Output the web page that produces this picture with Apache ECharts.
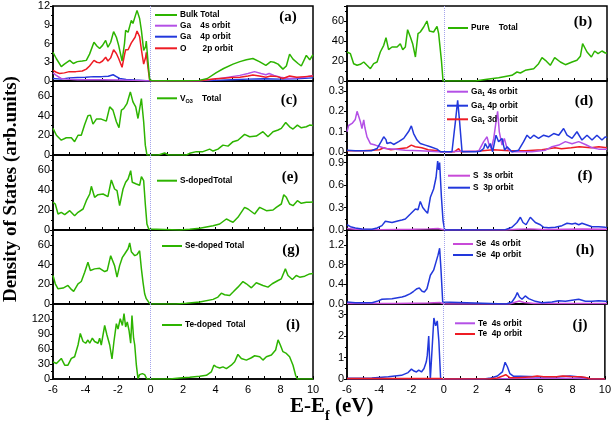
<!DOCTYPE html>
<html><head><meta charset="utf-8">
<script src="https://cdn.jsdelivr.net/npm/echarts@6/dist/echarts.min.js"></script>
<style>html,body{margin:0;padding:0;background:#fff}#c{width:614px;height:424px}</style>
</head><body><div id="c"></div>
<script>
// Energy axis (E - Ef, eV) tick labels
const xTickLabels = [-6,-4,-2,0,2,4,6,8,10];

// (a) bulk
const a_total = [[-6,4.6],[-5.8,3.6],[-5.49,2.3],[-5.3,2.7],[-4.97,3.3],[-4.75,2.8],[-4.5,3.1],[-4.2,3.2],[-3.95,3.3],[-3.75,4.3],[-3.48,6.2],[-3.3,5.6],[-3.13,5.2],[-2.95,5.7],[-2.76,6.5],[-2.62,5.4],[-2.45,6.2],[-2.27,7.9],[-2.1,7.0],[-1.96,5.7],[-1.75,3.2],[-1.6,6.0],[-1.53,8.1],[-1.38,7.8],[-1.18,9.7],[-1.08,9.2],[-0.95,10.3],[-0.83,11.3],[-0.67,10.0],[-0.56,8.1],[-0.42,4.9],[-0.3,5.5],[-0.26,6.4],[-0.15,3.0],[-0.05,0.2],[0.1,0.05],[1,0.05],[2,0.05],[3,0.1],[3.5,0.4],[4.05,1.35],[4.5,2.0],[5.08,2.7],[5.5,3.1],[5.9,3.4],[6.3,3.6],[6.7,3.1],[7.1,2.5],[7.4,3.1],[7.6,3.0],[7.85,2.7],[8.15,1.9],[8.36,2.4],[8.56,4.3],[8.77,3.5],[9.08,2.8],[9.28,2.4],[9.59,4.1],[9.8,3.4],[10,4.2]];
const a_ga4s = [[-6,1.3],[-5.8,0.9],[-5.5,0.4],[-5.2,0.3],[-4.5,0.2],[-3,0.2],[-2,0.15],[-1,0.1],[-0.3,0.05],[0,0.02],[1,0.02],[3,0.05],[3.5,0.15],[4.0,0.3],[4.5,0.5],[5.0,0.7],[5.5,0.9],[6.0,1.2],[6.4,1.5],[6.8,1.2],[7.1,1.0],[7.3,1.2],[7.6,0.9],[8.0,0.6],[8.5,0.4],[9.0,0.5],[9.5,0.6],[10,0.9]];
const a_ga4p = [[-6,0.4],[-5.5,0.3],[-5.0,0.5],[-4.5,0.55],[-4.0,0.6],[-3.5,0.7],[-3.0,0.7],[-2.6,0.75],[-2.3,1.0],[-2.1,0.7],[-1.9,0.4],[-1.5,0.25],[-1.0,0.15],[-0.5,0.1],[0,0.02],[3,0.05],[4,0.1],[5,0.2],[6,0.3],[7,0.35],[8,0.3],[9,0.35],[10,0.5]];
const a_o2p = [[-6,1.7],[-5.8,1.4],[-5.6,1.2],[-5.3,1.3],[-5.0,1.5],[-4.6,1.5],[-4.2,1.6],[-3.95,1.9],[-3.75,2.4],[-3.48,3.3],[-3.3,3.0],[-3.13,2.9],[-2.95,3.2],[-2.76,3.8],[-2.62,3.2],[-2.45,3.7],[-2.27,5.0],[-2.1,4.4],[-1.96,3.6],[-1.75,2.2],[-1.6,4.2],[-1.53,5.0],[-1.38,5.0],[-1.18,6.1],[-1.08,6.0],[-0.95,7.0],[-0.83,8.0],[-0.67,7.1],[-0.56,5.0],[-0.42,2.7],[-0.3,3.8],[-0.26,4.6],[-0.15,2.0],[-0.05,0.1],[0.1,0.02],[3,0.05],[3.5,0.2],[4.0,0.35],[4.5,0.45],[5.0,0.55],[5.5,0.6],[6.0,0.8],[6.3,0.95],[6.7,0.8],[7.1,0.6],[7.4,0.8],[7.8,0.7],[8.15,0.4],[8.56,0.8],[9.0,0.6],[9.5,0.7],[10,0.8]];

// (b) pure
const b_total = [[-6,29],[-5.79,27.3],[-5.59,17.3],[-5.38,15.7],[-5.18,16.7],[-4.97,19],[-4.77,15.7],[-4.56,12.3],[-4.36,17.3],[-4.15,19],[-3.95,29],[-3.74,35.7],[-3.6,43.3],[-3.44,31.3],[-3.23,34],[-2.92,34],[-2.72,37.3],[-2.57,31.3],[-2.41,34],[-2.27,51.3],[-2.1,44],[-1.96,37.3],[-1.79,24],[-1.63,47.3],[-1.49,49],[-1.28,54],[-1.08,60],[-0.93,50],[-0.67,49],[-0.46,54.7],[-0.36,47.3],[-0.19,20.7],[-0.09,0],[1.0,0],[1.9,0],[2.51,1.5],[3.33,3.3],[4.15,5.7],[4.46,9],[4.67,8],[4.97,10.7],[5.49,12.3],[5.79,17.3],[6.0,23.3],[6.21,20.7],[6.51,15.7],[6.78,23.3],[7.13,19],[7.44,16.3],[7.85,19],[8.15,20.7],[8.36,24.7],[8.5,37.3],[8.77,29],[9.04,24],[9.24,30],[9.45,27.3],[9.69,30],[9.9,28],[10,28]];

// (c) O vacancy
const c_total = [[-6,27],[-5.79,20],[-5.49,15],[-5.18,17.5],[-4.87,17.5],[-4.67,13.5],[-4.46,20],[-4.26,20],[-4.05,31],[-3.85,39.7],[-3.7,40.4],[-3.54,31.3],[-3.33,36.4],[-3.03,36.4],[-2.72,34.3],[-2.51,48.8],[-2.31,45.5],[-2.1,33.7],[-1.94,27.6],[-1.79,45.5],[-1.65,47],[-1.45,52],[-1.24,64],[-1.08,53.9],[-0.91,48.8],[-0.77,37],[-0.67,38.7],[-0.56,57.2],[-0.5,57],[-0.42,33.7],[-0.32,10],[-0.22,0],[0.5,0],[0.87,2],[1.1,0],[2.21,0],[2.41,1.7],[2.82,3.4],[3.23,3.4],[3.64,6],[3.85,4],[4.15,6],[4.46,10],[4.77,9],[5.08,13.5],[5.38,15],[5.79,20.9],[6.10,18.5],[6.51,19.2],[6.92,23.6],[7.23,18.5],[7.54,23.6],[7.85,25.3],[8.05,27],[8.32,33],[8.56,28.6],[8.77,26.3],[9.04,30.3],[9.28,27.6],[9.59,28.6],[9.79,30.3],[10,30]];

// (d) Ga1 orbitals
const d_ga4s = [[-6,0.099],[-5.9,0.13],[-5.69,0.14],[-5.49,0.16],[-5.38,0.2],[-5.28,0.205],[-5.18,0.15],[-5.08,0.115],[-4.97,0.158],[-4.9,0.12],[-4.77,0.074],[-4.56,0.04],[-4.26,0.033],[-3.95,0.025],[-3.64,0.016],[-3,0.012],[-2.41,0.008],[-1.5,0.005],[-0.36,0],[0.3,0],[1,0.003],[2.1,0.003],[2.41,0.05],[2.62,0.074],[2.72,0.04],[2.88,0.016],[3.03,0.066],[3.17,0.148],[3.27,0.2],[3.37,0.1],[3.54,0.033],[3.68,0.066],[3.85,0.016],[4.15,0],[5.38,0],[6.21,0.008],[6.62,0.025],[7.03,0.033],[7.44,0.05],[7.85,0.04],[8.26,0.05],[8.67,0.036],[9.08,0.02],[9.49,0.013],[9.9,0.012],[10,0.012]];
const d_ga4p = [[-6,0.008],[-5.5,0.005],[-4.5,0.005],[-4.15,0.016],[-3.9,0.05],[-3.74,0.074],[-3.6,0.06],[-3.54,0.041],[-3.33,0.046],[-3.13,0.036],[-2.82,0.05],[-2.51,0.066],[-2.21,0.1],[-2.04,0.128],[-1.9,0.09],[-1.69,0.058],[-1.49,0.041],[-1.18,0.033],[-0.87,0.025],[-0.46,0.013],[-0.26,0],[0.46,0],[0.6,0.1],[0.67,0.148],[0.81,0.255],[0.93,0.148],[1.08,0],[1.9,0],[2.21,0.003],[2.41,0.016],[2.51,0.041],[2.66,0.016],[2.82,0.041],[2.96,0],[3.17,0.082],[3.33,0.05],[3.54,0.066],[3.70,0.008],[3.85,0.025],[4.15,0],[4.56,0.008],[4.87,0.05],[5.08,0.082],[5.28,0.066],[5.49,0.082],[5.79,0.066],[6.1,0.082],[6.41,0.074],[6.72,0.09],[7.03,0.082],[7.33,0.115],[7.54,0.082],[7.85,0.066],[8.15,0.099],[8.46,0.058],[8.77,0.082],[9.08,0.058],[9.38,0.082],[9.69,0.058],[9.9,0.074],[10,0.07]];
const d_ga3d = [[-6,0.005],[-5,0.005],[-4,0.01],[-3.74,0.02],[-3.3,0.01],[-2.8,0.015],[-2.3,0.02],[-2.04,0.033],[-1.8,0.025],[-1.4,0.02],[-1.0,0.01],[-0.4,0.005],[-0.2,0],[0.6,0],[0.87,0.015],[1.0,0],[2,0.003],[3,0.01],[4,0.005],[5,0.005],[6,0.01],[6.8,0.02],[7.2,0.015],[7.8,0.02],[8.3,0.025],[9,0.02],[9.5,0.025],[10,0.02]];

// (e) S-doped
const e_total = [[-6,27.7],[-5.86,26],[-5.69,16],[-5.49,17.7],[-5.28,15.3],[-4.97,19.3],[-4.67,14.3],[-4.46,17.7],[-4.15,21],[-3.95,29.3],[-3.74,36],[-3.64,43.7],[-3.44,32.7],[-3.23,35.3],[-2.92,36],[-2.62,33.3],[-2.41,50],[-2.21,41],[-2.06,39.3],[-1.90,24.3],[-1.69,41],[-1.53,47.7],[-1.38,51],[-1.22,59.3],[-1.12,47.7],[-0.87,46],[-0.67,44.7],[-0.56,53.3],[-0.42,49.3],[-0.32,26],[-0.22,6],[-0.11,1],[0,0],[1.79,0],[2.41,0.7],[3.03,1.7],[3.85,4.3],[4.26,6],[4.67,11],[4.87,9.3],[5.08,7.7],[5.38,12.7],[5.79,22.7],[6.0,21],[6.41,16],[6.72,22.7],[7.13,19.3],[7.54,20],[7.74,22.7],[8.05,26],[8.2,35.3],[8.36,32.7],[8.56,26],[8.77,24.3],[9.04,29.3],[9.28,26.7],[9.59,27.7],[9.79,27.7],[10,28]];

// (f) S orbitals
const f_s3s = [[-6,0.02],[-5.5,0.01],[-4,0.005],[-2,0.01],[-1,0.015],[-0.4,0.02],[0,0],[3.8,0],[4.5,0.01],[5.3,0.015],[6,0.008],[7.5,0.01],[8.5,0.012],[10,0.01]];
const f_s3p = [[-6,0.07],[-5.79,0.044],[-5.49,0.027],[-5.08,0.013],[-4.46,0.01],[-4.15,0.027],[-3.85,0.058],[-3.64,0.116],[-3.23,0.1],[-2.82,0.124],[-2.62,0.133],[-2.41,0.147],[-2.10,0.213],[-1.79,0.28],[-1.63,0.27],[-1.49,0.38],[-1.34,0.3],[-1.18,0.258],[-1.04,0.222],[-0.87,0.436],[-0.67,0.547],[-0.52,0.7],[-0.42,0.92],[-0.36,0.8],[-0.30,0.9],[-0.19,0.44],[-0.09,0.124],[0.01,0],[3.74,0.005],[4.15,0.036],[4.46,0.1],[4.67,0.17],[4.83,0.1],[5.02,0.07],[5.28,0.17],[5.59,0.1],[5.9,0.07],[6.1,0.036],[6.41,0.03],[6.82,0.036],[7.23,0.058],[7.54,0.09],[7.85,0.08],[8.05,0.09],[8.26,0.07],[8.46,0.09],[8.77,0.067],[9.08,0.044],[9.49,0.044],[9.9,0.036],[10,0.035]];

// (g) Se-doped
const g_total = [[-6,28.9],[-5.86,20.5],[-5.69,15.4],[-5.38,16.1],[-5.08,18.8],[-4.87,14.8],[-4.73,12.8],[-4.46,20.5],[-4.26,22.8],[-4.05,32.2],[-3.85,42.3],[-3.70,33.9],[-3.44,35.6],[-3.13,36.2],[-2.82,32.9],[-2.66,34],[-2.45,49],[-2.21,38.9],[-2.06,27.2],[-1.9,38.9],[-1.73,47.3],[-1.59,50.7],[-1.38,56],[-1.28,62],[-1.18,53],[-0.97,49],[-0.83,50],[-0.67,54],[-0.56,35.6],[-0.46,22],[-0.36,10.4],[-0.26,5.4],[-0.05,0.3],[0.1,0],[1.59,0],[2.21,0.7],[3.03,2],[3.85,4.7],[4.15,7],[4.36,11],[4.56,9.4],[4.87,8.7],[5.08,12.1],[5.38,17.1],[5.69,22.8],[5.9,20.5],[6.21,16.4],[6.51,21.5],[6.92,18.8],[7.23,17.1],[7.49,20.5],[7.85,23.8],[8.05,25.5],[8.30,35.6],[8.46,28.9],[8.73,24.8],[8.97,28.9],[9.18,27.2],[9.49,28.2],[9.79,30.5],[10,31]];

// (h) Se orbitals
const h_se4s = [[-6,0.01],[-3,0.01],[-1,0.02],[-0.3,0.03],[0,0],[4,0],[4.4,0.04],[4.6,0.06],[4.9,0.03],[5.5,0.01],[7,0.01],[10,0.01]];
const h_se4p = [[-6,0.04],[-5.49,0.027],[-4.46,0.027],[-4.15,0.054],[-3.85,0.095],[-3.23,0.108],[-2.62,0.142],[-2.41,0.163],[-2.1,0.21],[-1.9,0.258],[-1.69,0.31],[-1.55,0.325],[-1.38,0.258],[-1.24,0.244],[-1.08,0.31],[-0.87,0.583],[-0.67,0.685],[-0.52,0.854],[-0.40,0.99],[-0.30,1.13],[-0.22,0.72],[-0.11,0.04],[-0.03,0],[3.8,0],[4.15,0.04],[4.36,0.142],[4.48,0.23],[4.61,0.142],[4.77,0.095],[4.97,0.163],[5.18,0.11],[5.59,0.054],[6.0,0.027],[6.62,0.04],[7.03,0.068],[7.44,0.054],[7.85,0.075],[8.26,0.095],[8.67,0.054],[9.08,0.054],[9.49,0.068],[9.9,0.054],[10,0.05]];

// (i) Te-doped
const i_total = [[-6,34.4],[-5.79,31],[-5.49,41.1],[-5.28,27.6],[-5.08,27.6],[-4.87,41.1],[-4.67,44.5],[-4.46,68],[-4.32,91],[-4.15,75],[-3.99,71.5],[-3.85,78],[-3.74,71.5],[-3.58,81.6],[-3.44,75],[-3.23,71.5],[-3.13,81.6],[-3.03,68],[-2.82,107],[-2.68,88],[-2.51,68],[-2.37,40],[-2.25,75],[-2.10,110.8],[-2.0,100],[-1.86,120.8],[-1.73,107],[-1.63,130.8],[-1.53,104],[-1.43,114],[-1.32,97],[-1.22,71.5],[-1.14,127],[-1.04,81.6],[-0.97,68],[-0.87,27.6],[-0.77,0.7],[-0.67,8.8],[-0.5,10.8],[-0.36,8.8],[-0.22,0],[1.18,0],[1.79,2],[2.41,3.4],[3.03,5.4],[3.44,7.4],[3.74,14.2],[3.9,27.6],[4.05,24.3],[4.26,22],[4.46,24.3],[4.67,20.9],[4.97,27.6],[5.18,34.4],[5.38,49.2],[5.59,41.1],[5.9,37.8],[6.21,42.5],[6.41,46.5],[6.72,44.5],[6.92,37.8],[7.13,44.5],[7.44,47.9],[7.7,58],[7.85,78.2],[7.99,68.1],[8.15,54.6],[8.36,51.2],[8.56,44.5],[8.77,27.6],[8.93,7.4],[9.04,0],[10,0]];

// (j) Te orbitals
const j_te5p = [[-6,0.03],[-4.46,0.05],[-3.44,0.1],[-2.62,0.17],[-2.21,0.3],[-2.0,0.46],[-1.84,0.37],[-1.69,0.33],[-1.55,0.41],[-1.38,0.33],[-1.22,0.49],[-1.08,0.8],[-1.02,1.1],[-0.93,2.0],[-0.83,0],[-0.73,0.05],[-0.61,2.85],[-0.5,2.48],[-0.4,2.71],[-0.3,1.76],[-0.19,0],[2.5,0],[2.92,0.05],[3.33,0.14],[3.64,0.33],[3.81,0.78],[3.95,0.57],[4.11,0.25],[4.19,0.33],[4.32,0.13],[4.77,0.13],[5.79,0.1],[7.03,0.1],[7.85,0.14],[8.87,0.06],[9.08,0],[10,0]];
const j_te4s = [[-6,0.015],[-3,0.01],[0,0.005],[4,0.02],[6,0.03],[8,0.03],[9,0.01],[10,0.01]];
const j_te4p = [[-6,0.02],[-2,0.02],[-0.2,0.02],[0,0],[2.9,0.01],[3.33,0.05],[3.7,0.15],[3.85,0.2],[4.1,0.06],[4.6,0.06],[5.5,0.1],[5.8,0.14],[6.2,0.1],[7.0,0.1],[7.4,0.14],[7.85,0.12],[8.5,0.1],[8.87,0.06],[9.08,0],[10,0]];

const GREEN='#2db400', VIOLET='#b450e6', MAGENTA='#c84ad8', BLUE='#2238dc', RED='#ee1c24';

const colLeft=[53,347], colW=260;
const rowTop=[6,81,155,230,304], rowH=[75,74,75,74,75];

const panels=[
 {c:0,r:0,min:0,max:12,interval:3,dec:0,showMax:true,lines:[[a_ga4p,BLUE],[a_ga4s,VIOLET],[a_o2p,RED],[a_total,GREEN]]},
 {c:1,r:0,min:0,max:75,interval:20,dec:0,lines:[[b_total,GREEN]]},
 {c:0,r:1,min:0,max:75,interval:20,dec:0,lines:[[c_total,GREEN]]},
 {c:1,r:1,min:-0.016,max:0.35,splitNumber:4,dec:1,lines:[[d_ga3d,RED],[d_ga4s,VIOLET],[d_ga4p,BLUE]]},
 {c:0,r:2,min:0,max:75,interval:20,dec:0,lines:[[e_total,GREEN]]},
 {c:1,r:2,min:0,max:1.0,interval:0.3,dec:1,lines:[[f_s3s,MAGENTA],[f_s3p,BLUE]]},
 {c:0,r:3,min:0,max:75,interval:20,dec:0,lines:[[g_total,GREEN]]},
 {c:1,r:3,min:0,max:1.5,interval:0.4,dec:1,lines:[[h_se4s,MAGENTA],[h_se4p,BLUE]]},
 {c:0,r:4,min:0,max:150,interval:30,dec:0,lines:[[i_total,GREEN]]},
 {c:1,r:4,min:0,max:3.5,interval:1,dec:0,lines:[[j_te4s,VIOLET],[j_te5p,BLUE],[j_te4p,RED]]}
];

const panelLabels=[['(a)',288,17],['(b)',583,22],['(c)',289,100],['(d)',584,101],['(e)',290,177],['(f)',585,176],['(g)',291,250],['(h)',585,250],['(i)',293,325],['(j)',580,325]];

const legendItems=[
 [155,177,15,GREEN,'Bulk Total'],[155,177,25.7,VIOLET,'Ga    4s orbit'],[155,177,36.7,BLUE,'Ga    4p orbit'],[155,177,48.3,RED,'O       2p orbit'],
 [448,468,28,GREEN,'Pure    Total'],
 [157,177,98.3,GREEN,'V{sub|O3}    Total'],
 [447,468,91.7,VIOLET,'Ga{sub|1} 4s orbit'],[447,468,105.7,BLUE,'Ga{sub|1} 4p orbit'],[447,468,119.3,RED,'Ga{sub|1} 3d orbit'],
 [157,177,180.7,GREEN,'S-dopedTotal'],
 [448,470,175.7,MAGENTA,'S  3s orbit'],[448,470,187.7,BLUE,'S  3p orbit'],
 [162,182,246,GREEN,'Se-doped Total'],
 [453,473,244,MAGENTA,'Se  4s orbit'],[453,473,255,BLUE,'Se  4p orbit'],
 [162,182,325,GREEN,'Te-doped  Total'],
 [455,475,323.3,VIOLET,'Te  4s orbit'],[455,475,334,RED,'Te  4p orbit']
];

const grids=[],xAxes=[],yAxes=[],series=[];
panels.forEach((p,i)=>{
  grids.push({left:colLeft[p.c],top:rowTop[p.r],width:colW,height:rowH[p.r],show:true,borderColor:'#000',borderWidth:1.5,backgroundColor:'transparent'});
  xAxes.push({type:'value',gridIndex:i,min:-6,max:10,interval:1,
    axisLine:{show:true,onZero:false,lineStyle:{color:'#000',width:1.5}},
    axisTick:{show:true,inside:true,length:3,lineStyle:{color:'#000',width:1}},
    axisLabel:{show:p.r===4,margin:5,fontSize:11,color:'#000',fontFamily:'Liberation Sans',
      formatter:v=>xTickLabels.indexOf(v)>=0?String(v):''},
    splitLine:{show:false}});
  const ya={type:'value',gridIndex:i,min:p.min,max:p.max,
    axisLine:{show:true,onZero:false,lineStyle:{color:'#000',width:1.5}},
    axisTick:{show:true,inside:false,length:3,lineStyle:{color:'#000',width:1}},
    minorTick:{show:true,splitNumber:2,length:2,lineStyle:{color:'#000',width:1}},
    axisLabel:{margin:3,fontSize:11,color:'#000',fontFamily:'Liberation Sans',
      showMaxLabel:!!p.showMax,showMinLabel:p.min===0,
      formatter:v=>Number(v).toFixed(p.dec)},
    splitLine:{show:false}};
  if(p.interval) ya.interval=p.interval; else ya.splitNumber=p.splitNumber;
  yAxes.push(ya);
  p.lines.forEach((ln,k)=>{
    const s={type:'line',xAxisIndex:i,yAxisIndex:i,data:ln[0],symbol:'none',showSymbol:false,
      lineStyle:{color:ln[1],width:1.5},itemStyle:{color:ln[1]},animation:false,z:2+k};
    if(k===0){
      s.markLine={silent:true,symbol:['none','none'],label:{show:false},animation:false,
        lineStyle:{type:'dotted',color:'#a4a4ec',width:1},data:[{xAxis:0}]};
    }
    series.push(s);
  });
});

const graphic=[];
panelLabels.forEach(l=>graphic.push({type:'text',x:l[1],y:l[2],z:10,
  style:{text:l[0],align:'center',verticalAlign:'middle',fill:'#000',font:'bold 15px "Liberation Serif"'}}));
legendItems.forEach(l=>{
  graphic.push({type:'line',z:10,shape:{x1:l[0],y1:l[2],x2:l[1],y2:l[2]},style:{stroke:l[3],lineWidth:2}});
  graphic.push({type:'text',x:l[1]+3,y:l[2],z:10,style:{text:l[4],align:'left',verticalAlign:'middle',fill:'#000',
    font:'bold 8.3px "Liberation Sans"',lineHeight:12,
    rich:{sub:{fontSize:5.5,fontWeight:'bold',fontFamily:'Liberation Sans',lineHeight:6,verticalAlign:'bottom'}}}});
});
graphic.push({type:'text',x:11,y:189,rotation:Math.PI/2,z:10,
  style:{text:'Density of States (arb.units)',align:'center',verticalAlign:'middle',fill:'#000',font:'bold 19px "Liberation Serif"'}});
graphic.push({type:'text',x:290,y:407,z:10,
  style:{text:'E-E{sub|f} (eV)',align:'left',verticalAlign:'middle',fill:'#000',font:'bold 21px "Liberation Serif"',lineHeight:32,
    rich:{sub:{fontSize:14,fontWeight:'bold',fontFamily:'Liberation Serif',lineHeight:14,verticalAlign:'bottom'}}}});

const chart=echarts.init(document.getElementById('c'),null,{renderer:'canvas'});
chart.setOption({animation:false,backgroundColor:'#fff',grid:grids,xAxis:xAxes,yAxis:yAxes,series:series,graphic:graphic});
</script></body></html>
